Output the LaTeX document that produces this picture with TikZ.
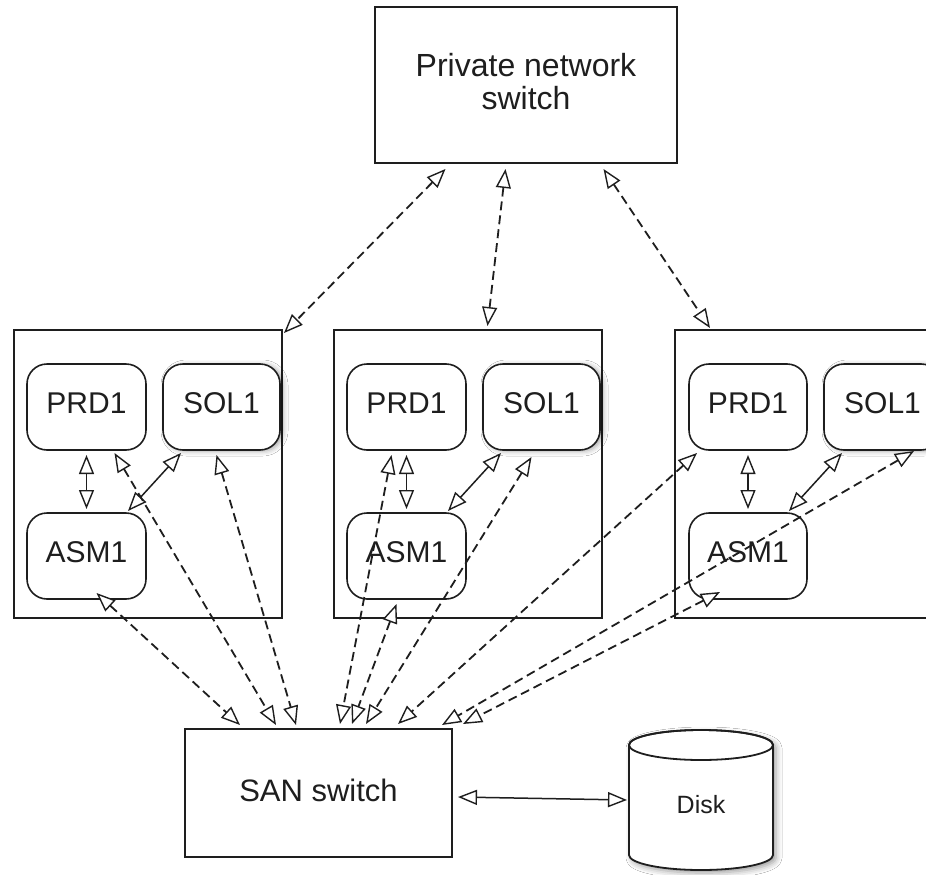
\documentclass[tikz,border=0pt]{standalone}
\usepackage{fontspec}
\setmainfont{Liberation Sans}
\usetikzlibrary{arrows.meta,calc,shadows.blur}

\definecolor{ink}{HTML}{1E1E1E}

\tikzset{
  every node/.style={inner sep=0pt, outer sep=0pt, text=ink},
  switchbox/.style={draw=ink, line width=2pt, fill=white},
  hostbox/.style={draw=ink, line width=2pt, fill=white,
    minimum width=268pt, minimum height=288pt},
  vmbox/.style={draw=ink, line width=1.6pt, fill=white, rounded corners=20pt,
    minimum width=119pt, minimum height=86pt,
    font=\fontsize{30}{33}\selectfont, text depth=8pt},
  shadowed/.style={blur shadow={shadow xshift=3pt, shadow yshift=-1pt,
    shadow blur radius=5pt, shadow opacity=35}},
  twoway/.style={{Triangle[fill=white,length=19pt,width=15pt,line width=1.4pt]}-{Triangle[fill=white,length=19pt,width=15pt,line width=1.4pt]}},
  solidlink/.style={twoway, draw=ink, line width=1.5pt},
  dashlink/.style={twoway, draw=ink, line width=1.8pt, dash pattern=on 9pt off 5pt},
}

\begin{document}
\begin{tikzpicture}[x=1pt, y=-1pt]
  \useasboundingbox (0,0) rectangle (926,875);
  \fill[white] (0,0) rectangle (926,875);
  \clip (0,0) rectangle (926,875);

  % switches
  \node[switchbox, minimum width=302pt, minimum height=156pt, align=center,
        font=\fontsize{32}{33}\selectfont, text depth=7pt] (priv) at (526,85)
        {Private network\\switch};
  \node[switchbox, minimum width=267pt, minimum height=128pt,
        font=\fontsize{31}{34}\selectfont, text depth=6pt] (san) at (318.5,793)
        {SAN switch};

  % hosts
  \node[hostbox] (hostA) at (148,474) {};
  \node[hostbox] (hostB) at (467.5,474) {};
  \node[hostbox] (hostC) at (809,474) {};

  % instances in each host
  \node[vmbox] (prdA) at (86.5,407) {PRD1};
  \node[vmbox, minimum width=117pt, shadowed] (solA) at (221.5,407) {SOL1};
  \node[vmbox] (asmA) at (86.5,556) {ASM1};

  \node[vmbox] (prdB) at (406.5,407) {PRD1};
  \node[vmbox, minimum width=117pt, shadowed] (solB) at (541.5,407) {SOL1};
  \node[vmbox] (asmB) at (406.5,556) {ASM1};

  \node[vmbox, minimum width=118pt] (prdC) at (748,407) {PRD1};
  \node[vmbox, minimum width=117pt, shadowed] (solC) at (882.5,407) {SOL1};
  \node[vmbox, minimum width=118pt] (asmC) at (748,556) {ASM1};

  % disk
  \node[minimum width=144pt, minimum height=140pt] (disk) at (701,800) {};
  \path[fill=white, draw=ink, line width=1.8pt,
        blur shadow={shadow xshift=3pt, shadow yshift=-3pt, shadow blur radius=6pt, shadow opacity=40}]
    (629,745) -- (629,855) arc[start angle=180, end angle=360, x radius=72pt, y radius=15pt]
    -- (773,745) arc[start angle=0, end angle=180, x radius=72pt, y radius=15pt] -- cycle;
  \draw[ink, line width=1.8pt] (701,745) ellipse[x radius=72pt, y radius=15pt];
  \node[font=\fontsize{25}{28}\selectfont] (disklabel) at (701,805) {Disk};

  % private network links
  \draw[dashlink] ($(priv.south)+(-80.5,6)$) -- ($(hostA.north east)+(2,3)$);
  \draw[dashlink] ($(priv.south)+(-20.5,6)$) -- ($(hostB.north)+(20,-4)$);
  \draw[dashlink] ($(priv.south)+(77.5,6)$) -- ($(hostC.north west)+(35,-2)$);

  % links inside each host
  \draw[solidlink] ($(prdA.south)+(0,5)$) -- ($(asmA.north)+(0,-4)$);
  \draw[solidlink] ($(solA.south west)+(18,3)$) -- ($(asmA.north east)+(-18,-2)$);
  \draw[solidlink] ($(prdB.south)+(0,5)$) -- ($(asmB.north)+(0,-4)$);
  \draw[solidlink] ($(solB.south west)+(18,3)$) -- ($(asmB.north east)+(-18,-2)$);
  \draw[solidlink] ($(prdC.south)+(0,5)$) -- ($(asmC.north)+(0,-4)$);
  \draw[solidlink] ($(solC.south west)+(18,3)$) -- ($(asmC.north east)+(-18,-2)$);

  % storage links to the SAN switch
  \draw[dashlink] ($(asmA.south)+(10,-6)$) -- ($(san.north west)+(55,-4)$);
  \draw[dashlink] ($(prdA.south)+(28,3)$) -- ($(san.north west)+(91,-4)$);
  \draw[dashlink] ($(solA.south)+(-5,5)$) -- ($(san.north west)+(111,-4)$);

  \draw[dashlink] ($(prdB.south)+(-15,5)$) -- ($(san.north west)+(155,-5)$);
  \draw[dashlink] ($(asmB.south)+(-10,5)$) -- ($(san.north west)+(167,-5)$);
  \draw[dashlink] ($(solB.south)+(-10,7)$) -- ($(san.north west)+(181,-5)$);

  \draw[dashlink] ($(prdC.south west)+(8,3)$) -- ($(san.north west)+(213,-5)$);
  \draw[dashlink] ($(solC.south west)+(90,1)$) -- ($(san.north west)+(257,-4)$);
  \draw[dashlink] ($(asmC.south)+(-28,-7)$) -- ($(san.north west)+(278,-5)$);

  % SAN switch to disk
  \draw[solidlink] ($(san.east)+(6,4)$) -- ($(disk.west)+(-2,0)$);
\end{tikzpicture}
\end{document}
